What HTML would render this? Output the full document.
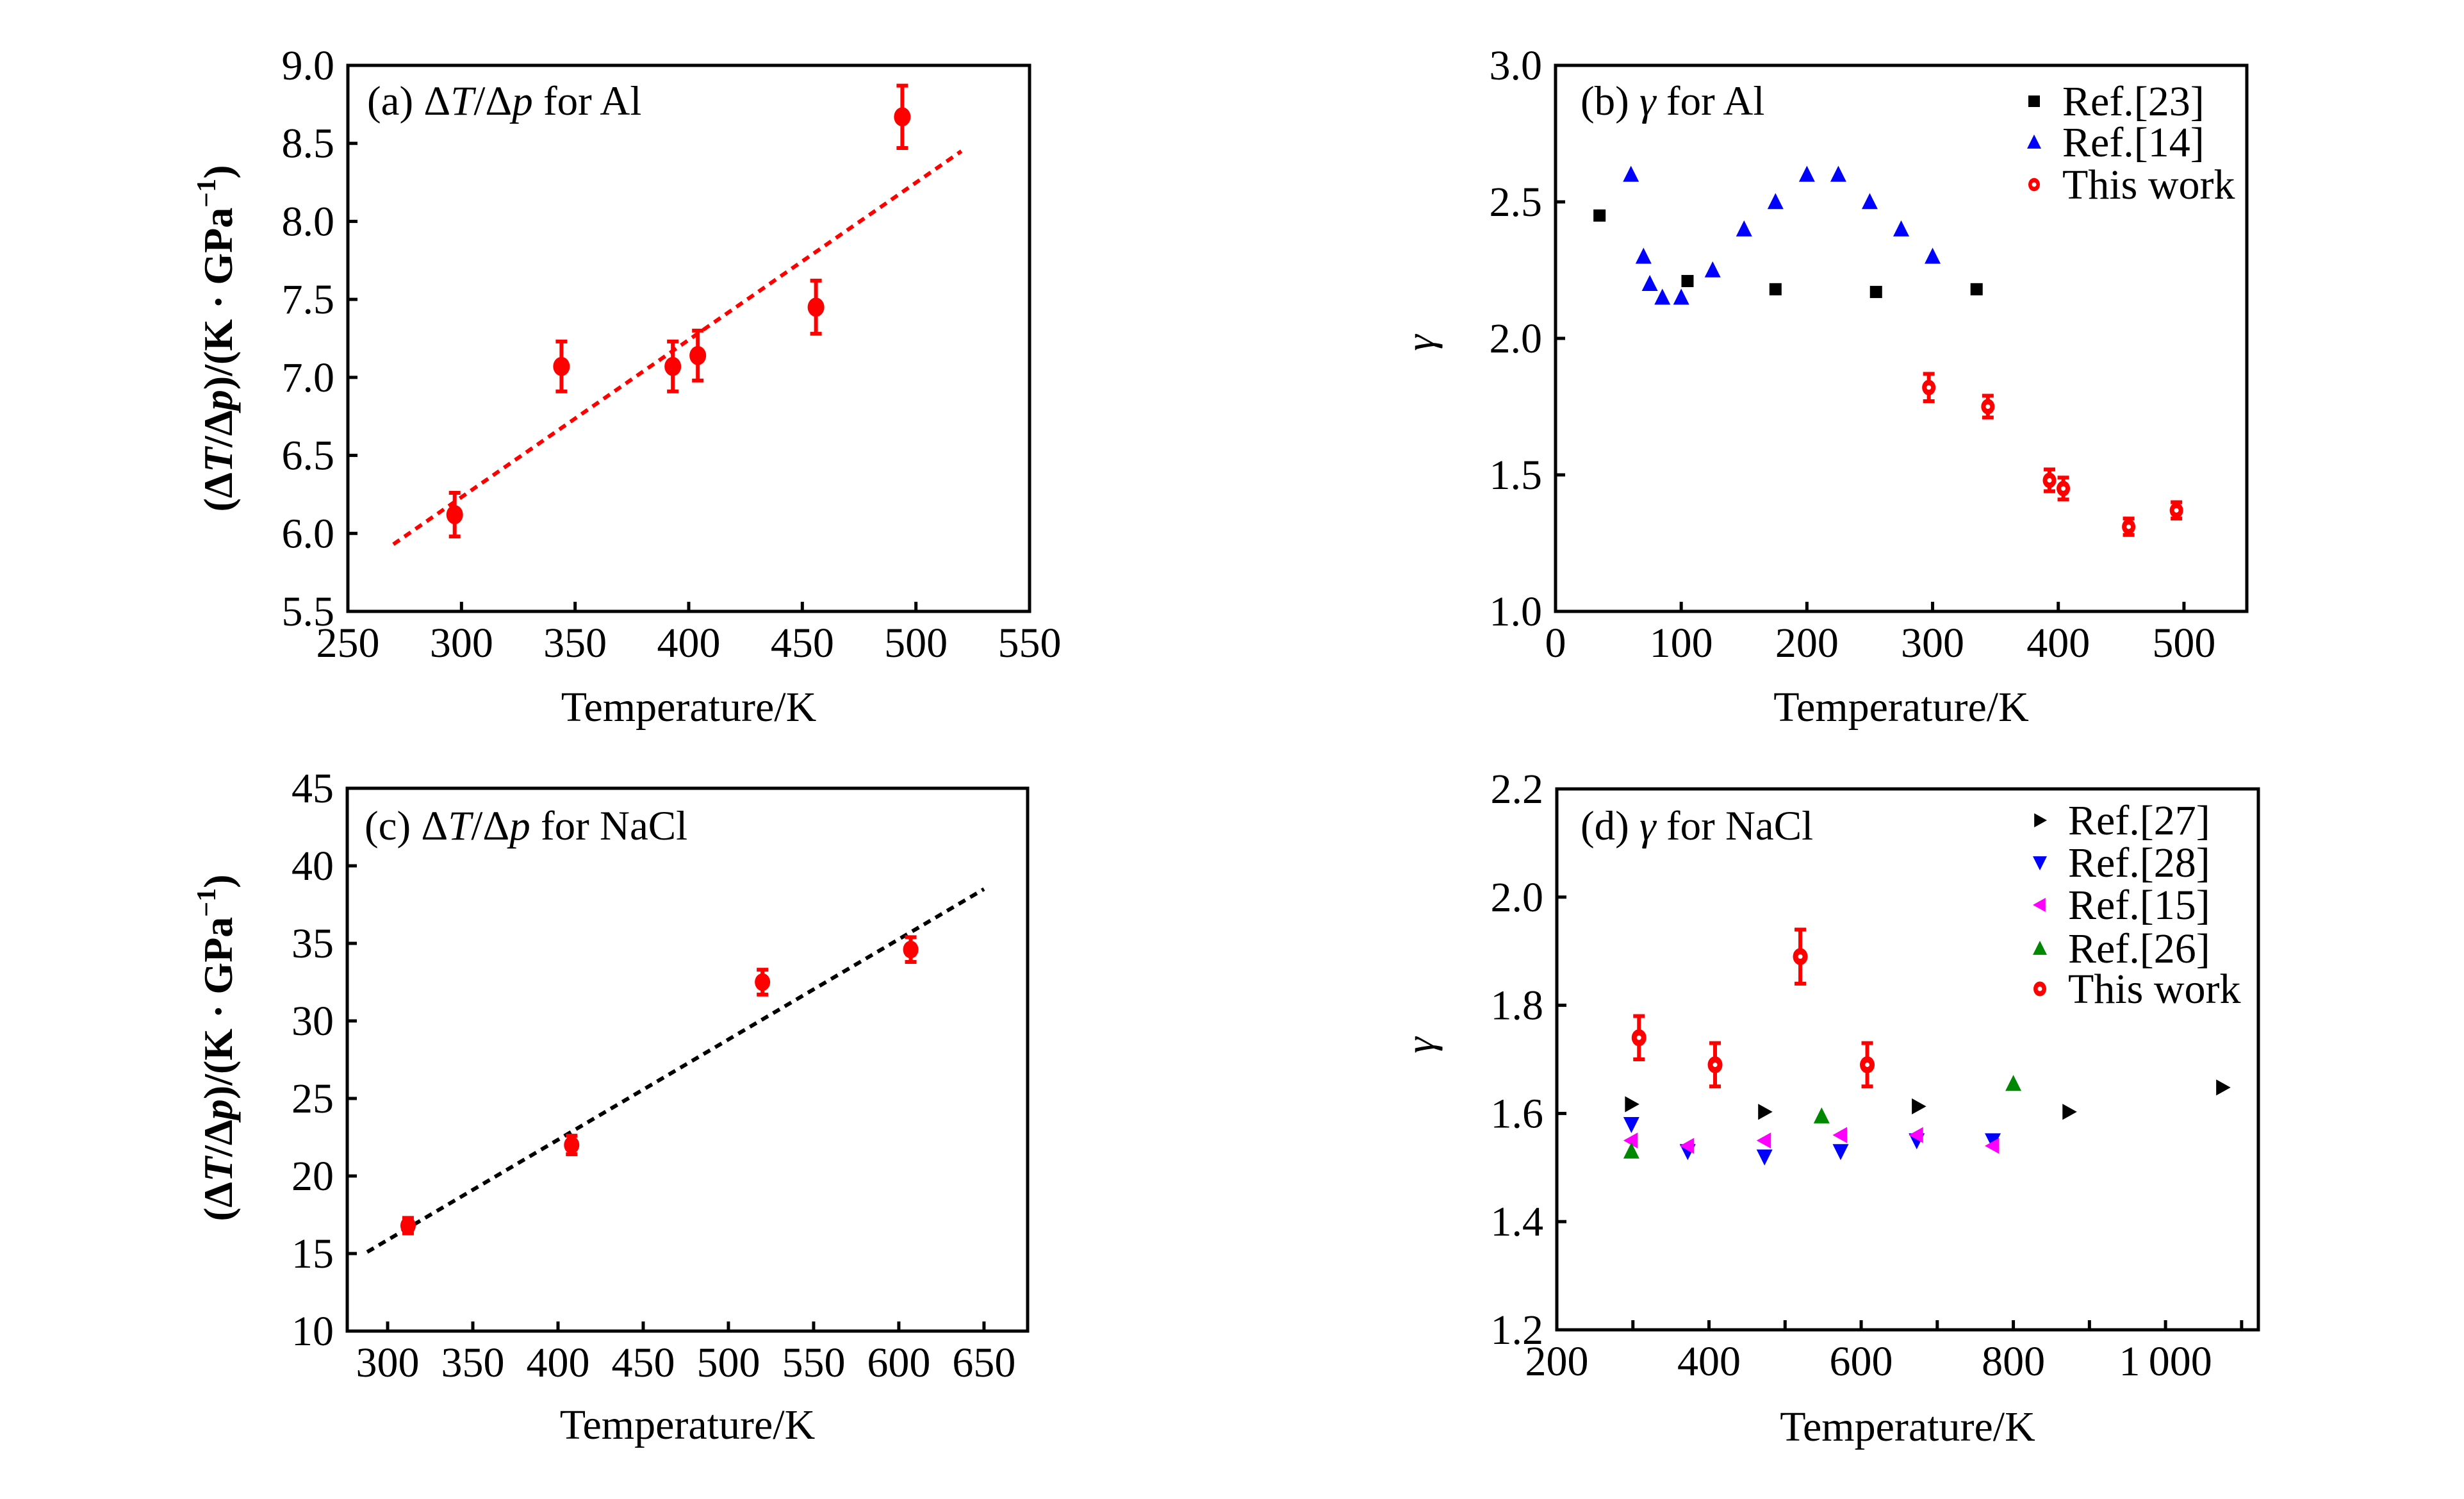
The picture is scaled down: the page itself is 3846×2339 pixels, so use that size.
<!DOCTYPE html>
<html><head><meta charset="utf-8"><style>
html,body{margin:0;padding:0;background:#fff;}
svg{display:block;font-family:"Liberation Serif","DejaVu Serif",serif;}
svg text, svg tspan{font-family:"Liberation Serif","DejaVu Serif",serif;}
</style></head><body>
<svg id="fig" width="3846" height="2339" viewBox="0 0 3846 2339" xmlns="http://www.w3.org/2000/svg"></svg>
<script>
// ---------- data ----------
// (a) dT/dp for Al
const aTemp=[297,344,393,404,456,494];
const aVal=[6.12,7.07,7.07,7.14,7.45,8.67];
const aErr=[0.14,0.16,0.16,0.16,0.17,0.2];
const aFitX=[270,520];
const aFitY=[5.93,8.45];
const aXTicks=[250,300,350,400,450,500,550];
const aYTicks=[5.5,6.0,6.5,7.0,7.5,8.0,8.5,9.0];
// (b) gamma for Al
const bRef23X=[35,105,175,255,335];
const bRef23Y=[2.45,2.21,2.18,2.17,2.18];
const bRef14X=[60,70,75,85,100,125,150,175,200,225,250,275,300];
const bRef14Y=[2.6,2.3,2.2,2.15,2.15,2.25,2.4,2.5,2.6,2.6,2.5,2.4,2.3];
const bWorkX=[297,344,393,404,456,494];
const bWorkY=[1.82,1.75,1.48,1.45,1.31,1.37];
const bWorkErr=[0.05,0.04,0.04,0.04,0.03,0.03];
const bXTicks=[0,100,200,300,400,500];
const bYTicks=[1.0,1.5,2.0,2.5,3.0];
// (c) dT/dp for NaCl
const cTemp=[312,408,520,607];
const cVal=[16.8,22.0,32.5,34.6];
const cErr=[0.5,0.6,0.8,0.8];
const cFitX=[288,650];
const cFitY=[15.1,38.5];
const cXTicks=[300,350,400,450,500,550,600,650];
const cYTicks=[10,15,20,25,30,35,40,45];
// (d) gamma for NaCl
const dRef27X=[298,473,675,873,1075];
const dRef27Y=[1.617,1.603,1.613,1.603,1.648];
const dRef28X=[298,372,473,573,673,773];
const dRef28Y=[1.58,1.53,1.52,1.53,1.55,1.55];
const dRef15X=[298,372,473,573,673,773];
const dRef15Y=[1.55,1.54,1.55,1.56,1.56,1.54];
const dRef26X=[298,548,800];
const dRef26Y=[1.53,1.595,1.655];
const dWorkX=[308,408,520,608];
const dWorkY=[1.74,1.69,1.89,1.69];
const dWorkErr=[0.04,0.04,0.05,0.04];
const dXTicks=[200,400,600,800,1000];
const dXTickLabels=['200','400','600','800','1\u2009000'];
const dXMinor=[300,400,500,600,700,800,900,1000,1100];
const dYTicks=[1.2,1.4,1.6,1.8,2.0,2.2];

// ---------- helpers ----------
const NS='http://www.w3.org/2000/svg';
const svg=document.getElementById('fig');
function mk(tag,attrs,parent){const e=document.createElementNS(NS,tag);for(const k in attrs)e.setAttribute(k,attrs[k]);(parent||svg).appendChild(e);return e;}
function scale(d0,d1,r0,r1){return v=>r0+(v-d0)/(d1-d0)*(r1-r0);}

function panel(o){
  const g=mk('g',{});
  
  
  const X=scale(o.xd[0],o.xd[1],o.L,o.R), Y=scale(o.yd[0],o.yd[1],o.B,o.T);
  const box=mk('rect',{x:o.L,y:o.T,width:o.R-o.L,height:o.B-o.T,fill:'none',stroke:'#000','stroke-width':5},g);
  
  
  (o.xMinor||o.xt).forEach(v=>{const px=X(v);if(Math.abs(px-o.L)<3||Math.abs(px-o.R)<3)return;
    const t=mk('line',{x1:px,x2:px,y1:o.B,y2:o.B-15,stroke:'#000','stroke-width':5},g);
    
    });
  o.xt.forEach((v,i)=>{const t=mk('text',{x:X(v),y:o.B+71,'font-size':66,'text-anchor':'middle'},g);
    t.textContent=o.xl?o.xl[i]:String(v);
    
    });
  o.yt.forEach(v=>{const py=Y(v);
    if(Math.abs(py-o.B)>3&&Math.abs(py-o.T)>3){const t=mk('line',{x1:o.L,x2:o.L+15,y1:py,y2:py,stroke:'#000','stroke-width':5},g);
      
      }
    const l=mk('text',{x:o.L-21,y:py+22,'font-size':66,'text-anchor':'end'},g);
    l.textContent=o.yfmt(v);
    
    });
  const xt=mk('text',{x:(o.L+o.R)/2,y:o.xtY,'font-size':66,'text-anchor':'middle'},g);
  xt.textContent='Temperature/K';
  
  
  return {g,X,Y};
}
function errbar(g,x,y0,y1,c){
  const l=mk('line',{x1:x,x2:x,y1:y0,y2:y1,stroke:c,'stroke-width':6},g);
  
  
  [y0,y1].forEach(yy=>{const cap=mk('line',{x1:x-9,x2:x+9,y1:yy,y2:yy,stroke:c,'stroke-width':6},g);
    
    });
}
function marker(g,type,x,y,c,s){
  let e;
  if(type==='square')e=mk('rect',{x:x-s/2,y:y-s/2,width:s,height:s,fill:c},g);
  else if(type==='up')e=mk('polygon',{points:`${x},${y-s*0.55} ${x-s/2},${y+s*0.45} ${x+s/2},${y+s*0.45}`,fill:c},g);
  else if(type==='down')e=mk('polygon',{points:`${x},${y+s*0.55} ${x-s/2},${y-s*0.45} ${x+s/2},${y-s*0.45}`,fill:c},g);
  else if(type==='left')e=mk('polygon',{points:`${x-s*0.5},${y} ${x+s*0.4},${y-s/2} ${x+s*0.4},${y+s/2}`,fill:c},g);
  else if(type==='right')e=mk('polygon',{points:`${x+s*0.5},${y} ${x-s*0.4},${y-s/2} ${x-s*0.4},${y+s/2}`,fill:c},g);
  else if(type==='ring'){e=mk('ellipse',{cx:x,cy:y,rx:s/2,ry:s/2*1.15,fill:c},g);
    const d=mk('circle',{cx:x,cy:y,r:3.5,fill:'#fff'},g);
    
    }
  else e=mk('ellipse',{cx:x,cy:y,rx:s/2,ry:s/2*1.15,fill:c},g);
  return e;
}
function title(g,x,y,parts){
  const t=mk('text',{x:x,y:y,'font-size':65},g);
  parts.forEach(p=>{const s=mk('tspan',{},t);if(p[1])s.setAttribute('font-style','italic');s.textContent=p[0];});
  
  
}
function ytitleDT(x,y){
  const t=mk('text',{x:0,y:0,'font-size':64,'font-weight':'bold','text-anchor':'middle',transform:`translate(${x},${y}) rotate(-90)`});
  const parts=[['(\u0394',0],['T',1],['/\u0394',0],['p',1],[')/(K \u00b7 GPa',0]];
  parts.forEach(p=>{const s=mk('tspan',{},t);if(p[1])s.setAttribute('font-style','italic');s.textContent=p[0];});
  const sup=mk('tspan',{'font-size':42,dy:-26},t);sup.textContent='\u22121';
  const cl=mk('tspan',{dy:26},t);cl.textContent=')';
  
  
}
function ytitleG(x,y){
  const t=mk('text',{x:0,y:0,'font-size':64,'font-style':'italic','text-anchor':'middle',transform:`translate(${x},${y}) rotate(-90)`});
  t.textContent='\u03b3';
  
  
}
function legend(g,x,tx,y,type,c,s,label){
  const m=marker(g,type,x,y,c,s);
  
  
  const t=mk('text',{x:tx,y:y+22,'font-size':66},g);
  t.textContent=label;
  
  
}

// ---------- panel a ----------
(function(){
  const p=panel({name:'panel-a',L:543,R:1607,T:102,B:954,xd:[250,550],yd:[5.5,9.0],xt:aXTicks,yt:aYTicks,yfmt:v=>v.toFixed(1),xtY:1125});
  const fit=mk('line',{x1:p.X(aFitX[0]),y1:p.Y(aFitY[0]),x2:p.X(aFitX[1]),y2:p.Y(aFitY[1]),stroke:'#f00','stroke-width':6,'stroke-dasharray':'12 9'},p.g);
  
  
  aTemp.forEach((t,i)=>{errbar(p.g,p.X(t),p.Y(aVal[i]-aErr[i]),p.Y(aVal[i]+aErr[i]),'#f00');
    const m=marker(p.g,'dot',p.X(t),p.Y(aVal[i]),'#f00',26);
    
    });
  title(p.g,573,179,[['(a) \u0394',0],['T',1],['/\u0394',0],['p',1],[' for Al',0]]);
  ytitleDT(362,528);
})();
// ---------- panel b ----------
(function(){
  const p=panel({name:'panel-b',L:2428,R:3507,T:102,B:954,xd:[0,550],yd:[1.0,3.0],xt:bXTicks,yt:bYTicks,yfmt:v=>v.toFixed(1),xtY:1125});
  bRef23X.forEach((x,i)=>{const m=marker(p.g,'square',p.X(x),p.Y(bRef23Y[i]),'#000',19);
    
    });
  bRef14X.forEach((x,i)=>{const m=marker(p.g,'up',p.X(x),p.Y(bRef14Y[i]),'#00f',25);
    
    });
  bWorkX.forEach((x,i)=>{errbar(p.g,p.X(x),p.Y(bWorkY[i]-bWorkErr[i]),p.Y(bWorkY[i]+bWorkErr[i]),'#f00');
    const m=marker(p.g,'ring',p.X(x),p.Y(bWorkY[i]),'#f00',21);
    
    });
  title(p.g,2467,179,[['(b) ',0],['\u03b3',1],[' for Al',0]]);
  legend(p.g,3175,3219,158,'square','#000',18,'Ref.[23]');
  legend(p.g,3175,3219,222,'up','#00f',22,'Ref.[14]');
  legend(p.g,3175,3219,288,'ring','#f00',18,'This work');
  ytitleG(2238,535);
})();
// ---------- panel c ----------
(function(){
  const p=panel({name:'panel-c',L:542,R:1604,T:1230,B:2077,xd:[276.3,675.6],yd:[10,45],xt:cXTicks,yt:cYTicks,yfmt:v=>String(v),xtY:2245});
  const fit=mk('line',{x1:p.X(cFitX[0]),y1:p.Y(cFitY[0]),x2:p.X(cFitX[1]),y2:p.Y(cFitY[1]),stroke:'#000','stroke-width':6,'stroke-dasharray':'12 9'},p.g);
  
  
  cTemp.forEach((t,i)=>{errbar(p.g,p.X(t),p.Y(cVal[i]-cErr[i]),p.Y(cVal[i]+cErr[i]),'#f00');
    const m=marker(p.g,'dot',p.X(t),p.Y(cVal[i]),'#f00',24);
    
    });
  title(p.g,569,1310,[['(c) \u0394',0],['T',1],['/\u0394',0],['p',1],[' for NaCl',0]]);
  ytitleDT(362,1635);
})();
// ---------- panel d ----------
(function(){
  const p=panel({name:'panel-d',L:2430,R:3525,T:1231,B:2075,xd:[200,1122],yd:[1.2,2.2],xt:dXTicks,xl:dXTickLabels,xMinor:dXMinor,yt:dYTicks,yfmt:v=>v.toFixed(1),xtY:2248});
  dRef27X.forEach((x,i)=>{const m=marker(p.g,'right',p.X(x),p.Y(dRef27Y[i]),'#000',25);
    
    });
  dRef28X.forEach((x,i)=>{const m=marker(p.g,'down',p.X(x),p.Y(dRef28Y[i]),'#00f',25);
    
    });
  dRef15X.forEach((x,i)=>{const m=marker(p.g,'left',p.X(x),p.Y(dRef15Y[i]),'#f0f',25);
    
    });
  dRef26X.forEach((x,i)=>{const m=marker(p.g,'up',p.X(x),p.Y(dRef26Y[i]),'#080',25);
    
    });
  dWorkX.forEach((x,i)=>{errbar(p.g,p.X(x),p.Y(dWorkY[i]-dWorkErr[i]),p.Y(dWorkY[i]+dWorkErr[i]),'#f00');
    const m=marker(p.g,'ring',p.X(x),p.Y(dWorkY[i]),'#f00',23);
    
    });
  title(p.g,2467,1310,[['(d) ',0],['\u03b3',1],[' for NaCl',0]]);
  legend(p.g,3184,3228,1280,'right','#000',22,'Ref.[27]');
  legend(p.g,3184,3228,1346,'down','#00f',22,'Ref.[28]');
  legend(p.g,3184,3228,1412,'left','#f0f',22,'Ref.[15]');
  legend(p.g,3184,3228,1480,'up','#080',22,'Ref.[26]');
  legend(p.g,3184,3228,1543,'ring','#f00',20,'This work');
  ytitleG(2238,1631);
})();
</script>
</body></html>
